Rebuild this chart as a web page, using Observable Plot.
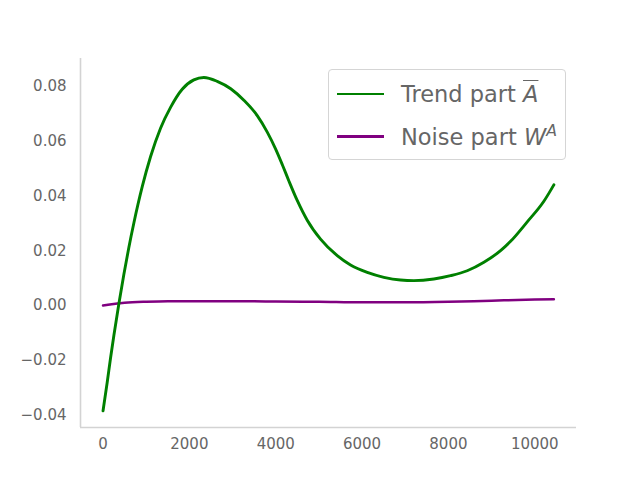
<!DOCTYPE html>
<html>
<head>
<meta charset="utf-8">
<script src="https://cdn.jsdelivr.net/npm/d3@7"></script>
<script src="https://cdn.jsdelivr.net/npm/@observablehq/plot@0.6"></script>
<style>
  body { margin: 0; background: #fff; }
  #wrap { position: relative; width: 640px; height: 480px; font-family: "DejaVu Sans", sans-serif; }
  #legend { position: absolute; left: 328px; top: 69px; width: 236px; height: 89px;
            border: 1px solid #d5d5d5; border-radius: 4px; background: rgba(255,255,255,0.85); }
  .row { position: absolute; left: 0; height: 30px; display: flex; align-items: center; }
  .swatch { width: 47px; height: 2.6px; margin-left: 8px; }
  .lab { margin-left: 17px; font-size: 22.5px; color: #666; white-space: nowrap; }
  .m { font-style: italic; }
  .ov { text-decoration: overline; text-decoration-thickness: 1.3px; }
  sup { font-size: 0.7em; font-style: italic; vertical-align: 0.55em; line-height: 0; }
</style>
</head>
<body>
<div id="wrap"></div>
<script>
// ---- data ----
const trendX = [0, 97, 174, 250, 366, 482, 598, 714, 908, 1100, 1332, 1564, 1834, 2103, 2335, 2645, 2958, 3262, 3572, 3804, 3996, 4151, 4305, 4498, 4730, 5038, 5425, 5733, 6120, 6505, 6891, 7200, 7663, 8050, 8436, 8822, 9208, 9440, 9826, 10211, 10443];
const trendY = [-0.0383, -0.0279, -0.0191, -0.0110, 0.0006, 0.0113, 0.0212, 0.0301, 0.0433, 0.0542, 0.0646, 0.0722, 0.0788, 0.0822, 0.0831, 0.0817, 0.0790, 0.0748, 0.0692, 0.0632, 0.0571, 0.0514, 0.0454, 0.0383, 0.0311, 0.0242, 0.0182, 0.0148, 0.0121, 0.0103, 0.0093, 0.0091, 0.0097, 0.0109, 0.0127, 0.0158, 0.0200, 0.0234, 0.0305, 0.0380, 0.0440];

const noiseX = [0, 200, 500, 1000, 1500, 2000, 3000, 4000, 5000, 6000, 7000, 8000, 9000, 10000, 10443];
const noiseY = [0.0000, 0.0005, 0.0010, 0.0014, 0.0016, 0.0016, 0.0016, 0.0015, 0.0014, 0.0012, 0.0012, 0.0014, 0.0018, 0.0022, 0.0023];

const xTicks = [0, 2000, 4000, 6000, 8000, 10000];
const yTicks = [-0.04, -0.02, 0.00, 0.02, 0.04, 0.06, 0.08];

const seriesNames = ["Trend part", "Noise part"];
const seriesColors = ["green", "purple"];
const xDomain = [-522, 10967];
const yDomain = [-0.0444, 0.0900];

// ---- build tables ----
const trend = trendX.map((x, i) => ({x, y: trendY[i]}));
const noise = noiseX.map((x, i) => ({x, y: noiseY[i]}));

const chart = Plot.plot({
  width: 640,
  height: 480,
  marginLeft: 80,
  marginRight: 64,
  marginTop: 58,
  marginBottom: 53,
  style: {fontFamily: "DejaVu Sans", fontSize: "15px", color: "#666", background: "white"},
  x: {domain: xDomain, label: null},
  y: {domain: yDomain, label: null},
  marks: [
    Plot.axisX({ticks: xTicks, tickSize: 0, tickPadding: 11, tickFormat: d => String(d), fill: "#666"}),
    Plot.axisY({ticks: yTicks, tickSize: 0, tickPadding: 14, tickFormat: d => d.toFixed(2).replace("-", "\u2212"), fill: "#666"}),
    Plot.ruleX([xDomain[0]], {stroke: "#d3d3d3", strokeWidth: 1.6}),
    Plot.ruleY([yDomain[0]], {stroke: "#d3d3d3", strokeWidth: 1.6}),
    Plot.line(noise, {x: "x", y: "y", stroke: seriesColors[1], strokeWidth: 2.5, curve: "monotone-x"}),
    Plot.line(trend, {x: "x", y: "y", stroke: seriesColors[0], strokeWidth: 2.9, curve: "monotone-x"})
  ]
});

const wrap = document.getElementById("wrap");
wrap.appendChild(chart);

// ---- legend ----
const legend = document.createElement("div");
legend.id = "legend";
const mathParts = [
  '<span class="m ov">A</span>',
  '<span class="m">W</span><sup>A</sup>'
];
const rowTops = [9, 51.5];
seriesNames.forEach((name, i) => {
  const row = document.createElement("div");
  row.className = "row";
  row.style.top = rowTops[i] + "px";
  row.innerHTML = `<div class="swatch" style="background:${seriesColors[i]}"></div><div class="lab">${name} ${mathParts[i]}</div>`;
  legend.appendChild(row);
});
wrap.appendChild(legend);
</script>
</body>
</html>
